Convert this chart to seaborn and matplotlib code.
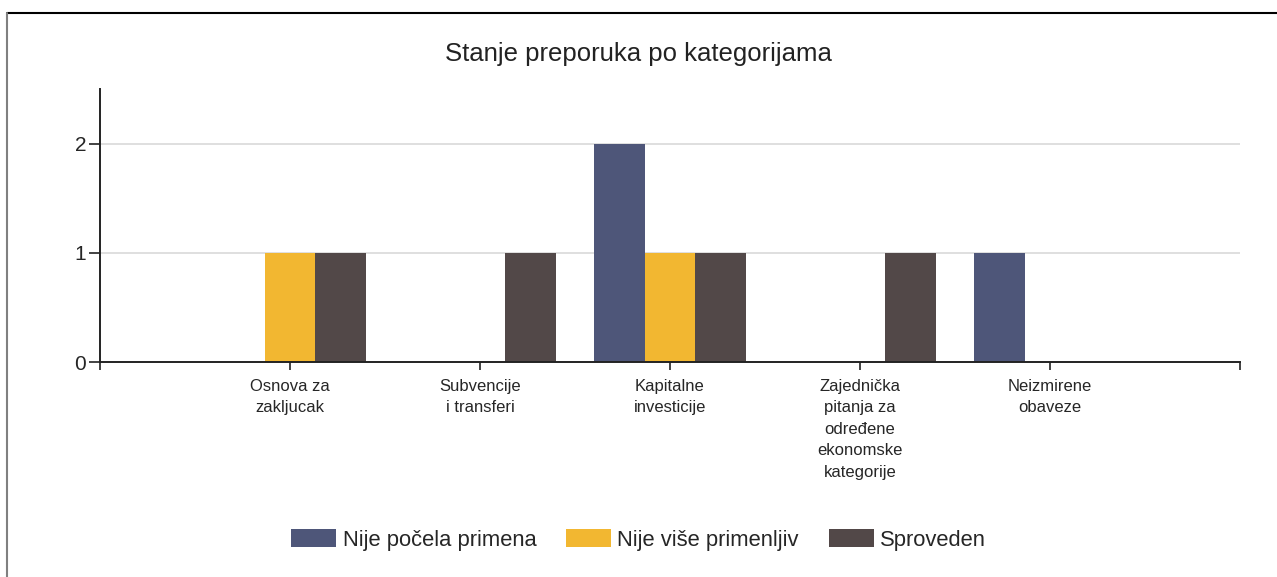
import pandas as pd
import matplotlib.pyplot as plt
import seaborn as sns
from matplotlib.lines import Line2D

# Data
categories = ["Osnova za\nzakljucak", "Subvencije\ni transferi", "Kapitalne\ninvesticije",
              "Zajednička\npitanja za\nodređene\nekonomske\nkategorije", "Neizmirene\nobaveze"]
statuses = ["Nije počela primena", "Nije više primenljiv", "Sproveden"]
nije_pocela = [0, 0, 2, 0, 1]
nije_vise = [1, 0, 1, 0, 0]
sproveden = [1, 1, 1, 1, 0]
colors = ["#4E5679", "#F2B731", "#524848"]

rows = []
for status, values in zip(statuses, [nije_pocela, nije_vise, sproveden]):
    for cat, v in zip(categories, values):
        rows.append({"kategorija": cat, "status": status, "broj": v})
df = pd.DataFrame(rows)

sns.set_style("white")
plt.rcParams['font.family'] = ['Liberation Sans', 'DejaVu Sans']

fig = plt.figure(figsize=(12.77, 5.77), dpi=100)
ax = fig.add_axes([0.0783, 0.3726, 0.8927, 0.4732])

sns.barplot(data=df, x="kategorija", y="broj", hue="status", order=categories,
            hue_order=statuses, palette=colors, saturation=1, width=0.8,
            edgecolor="none", ax=ax)

ax.set_xlim(-1, 5)
ax.set_ylim(0, 2.5)
ax.set_yticks([0, 1, 2])
ax.set_xticks(range(-1, 6))
ax.set_xticklabels([""] + categories + [""], fontsize=12, linespacing=1.55)
ax.tick_params(axis="y", left=True, labelsize=15, length=8, width=1.2, color="#222222", pad=2)
ax.tick_params(axis="x", bottom=True, length=6, width=1.2, color="#222222", pad=6)
for y in [1, 2]:
    ax.axhline(y, color="#D9D9D9", lw=1.2, zorder=0)
for s in ["top", "right"]:
    ax.spines[s].set_visible(False)
for s in ["left", "bottom"]:
    ax.spines[s].set_color("#222222")
    ax.spines[s].set_linewidth(1.4)
ax.set_xlabel("")
ax.set_ylabel("")

fig.suptitle("Stanje preporuka po kategorijama", y=0.928, fontsize=18.5, color="#222222")

ax.legend(loc="center", frameon=False, ncol=3, fontsize=15.8, handlelength=2.05,
          handleheight=0.9, columnspacing=1.35, handletextpad=0.3)
leg = ax.get_legend()
leg.set_bbox_to_anchor((0.5, 1 - 540 / 577), transform=fig.transFigure)

# figure frame lines (top and left)
fig.add_artist(Line2D([7 / 1277, 1], [1 - 13 / 577, 1 - 13 / 577], color="black", lw=1.5))
fig.add_artist(Line2D([7 / 1277, 7 / 1277], [0, 1 - 13 / 577], color="#808080", lw=1.5))

fig.savefig("out.png", dpi=100)
